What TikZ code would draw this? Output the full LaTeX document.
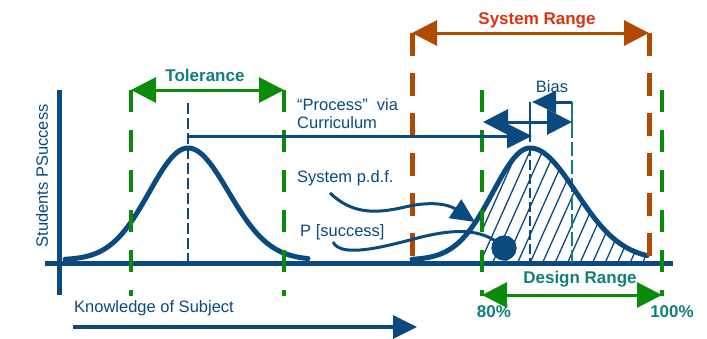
\documentclass[tikz,border=0pt]{standalone}
\usepackage{fontspec}
\setmainfont{Liberation Sans}
\usetikzlibrary{arrows.meta}
\definecolor{navy}{HTML}{0B4A7E}
\definecolor{grn}{HTML}{0A8C0A}
\definecolor{org}{HTML}{B04A00}
\definecolor{redt}{HTML}{DD3311}
\definecolor{tealt}{HTML}{127F78}
\begin{document}
\begin{tikzpicture}[x=1pt,y=-1pt,
  lbl/.style={font=\fontsize{16.5}{18}\selectfont, text=navy, inner sep=0pt},
  blbl/.style={font=\fontsize{17}{20}\selectfont\bfseries, inner sep=0pt},
  gdash/.style={grn, line width=4.5pt, dash pattern=on 22pt off 18pt},
  odash/.style={org, line width=5pt, dash pattern=on 23pt off 17pt},
  onehead/.style={line width=3pt, -{Triangle[length=25pt,width=24pt]}},
  twohead/.style={line width=3pt, {Triangle[length=25pt,width=25pt]}-{Triangle[length=25pt,width=25pt]}},
  bell/.style={navy, line width=5pt, line join=round, line cap=round},
  fineline/.style={line width=1.4pt},
  axisline/.style={navy, line width=5pt},
]
\useasboundingbox (0,0) rectangle (707,338);

% axes
\coordinate (xa0) at (45,263);
\coordinate (xa1) at (673,263);
\coordinate (ya0) at (59,90);
\coordinate (ya1) at (59,295);
\draw[axisline] (xa0) -- (xa1);
\draw[axisline] (ya0) -- (ya1);

% hatching under the right curve
\begin{scope}
  \clip plot[domain=482:647, samples=60] (\x,{260-112*exp(-((\x-530)^2)/((\x<530) ? 2738 : 4232))}) -- (647,263) -- (482,263) -- cycle;
  \foreach \i in {380,392.5,...,660} \draw[navy, line width=1.3pt] (\i,263) -- ++(55,-123);
\end{scope}

% vertical reference lines
\coordinate (c1t) at (188,103);
\coordinate (c1b) at (188,263);
\draw[navy, fineline, dash pattern=on 11pt off 4pt] (c1t) -- (c1b);
\coordinate (c2t) at (530,102);
\coordinate (c2b) at (530,263);
\draw[navy, fineline, dash pattern=on 40pt off 4pt on 10pt off 4pt on 10pt off 4pt on 10pt off 4pt on 10pt off 4pt on 10pt off 4pt on 10pt off 4pt on 10pt off 4pt on 10pt off 4pt on 10pt off 4pt] (c2t) -- (c2b);
\coordinate (c3t) at (572,102);
\coordinate (c3b) at (572,263);
\draw[tealt, fineline, dash pattern=on 36pt off 4pt on 14pt off 4pt on 14pt off 4pt on 14pt off 4pt on 14pt off 4pt on 14pt off 4pt on 14pt off 4pt on 14pt off 4pt] (c3t) -- (c3b);

% bell curves
\draw[bell] plot[domain=65:308, samples=90] (\x,{260-112*exp(-((\x-188)^2)/((\x<188) ? 3000 : 3300))});
\draw[bell] plot[domain=412:647, samples=90] (\x,{260-112*exp(-((\x-530)^2)/((\x<530) ? 2738 : 4232))});

% green tolerance lines
\coordinate (g1t) at (131,90);  \coordinate (g1b) at (131,296);
\coordinate (g2t) at (284,90);  \coordinate (g2b) at (284,296);
\coordinate (g3t) at (482,90);  \coordinate (g3b) at (482,296);
\coordinate (g4t) at (662,90);  \coordinate (g4b) at (662,296);
\draw[gdash] (g1t) -- (g1b);
\draw[gdash] (g2t) -- (g2b);
\draw[gdash] (g3t) -- (g3b);
\draw[gdash] (g4t) -- (g4b);

% orange system range lines
\coordinate (o1t) at (412,33);  \coordinate (o1b) at (412,259);
\coordinate (o2t) at (649,33);  \coordinate (o2b) at (649,259);
\draw[odash] (o1t) -- (o1b);
\draw[odash] (o2t) -- (o2b);

% range arrows
\draw[twohead, grn] (g1t) -- (g2t);
\draw[twohead, org] (o1t) -- (o2t);
\coordinate (d1) at (482,295);
\coordinate (d2) at (662,295);
\draw[twohead, grn] (d1) -- (d2);

% process arrow
\coordinate (p0) at (188,136);
\coordinate (p1) at (532,136);
\draw[onehead, navy] (p0) -- (p1);

% bias arrows
\coordinate (b1) at (483,122);
\coordinate (b2) at (572,122);
\draw[twohead, navy] (b1) -- (b2);
\coordinate (bs) at (572,102);
\coordinate (be) at (532,102);
\draw[navy, line width=3pt, -{Triangle[length=24pt,width=22pt]}] (bs) -- (be);

% knowledge arrow
\coordinate (k0) at (73,327);
\coordinate (k1) at (417,327);
\draw[navy, line width=3.5pt, -{Triangle[length=24pt,width=23pt]}] (k0) -- (k1);

% label pointers
\coordinate (sp0) at (330,193);
\coordinate (sp1) at (475,222);
\draw[navy, line width=3pt, -{Triangle[length=24pt,width=22pt]}]
  (sp0) .. controls (352,214) and (375,214) .. (405,207) .. controls (430,201) and (448,204) .. (sp1);
\coordinate (ps0) at (333,242);
\node[circle, fill=navy, minimum size=25pt, inner sep=0pt] (dot) at (504,248) {};
\draw[navy, line width=3pt]
  (ps0) .. controls (340,256) and (372,250) .. (410,240) .. controls (450,229) and (482,226) .. (dot.center);
\node[circle, fill=navy, minimum size=25pt, inner sep=0pt] at (dot) {};

% texts
\node[blbl, text=tealt] (tol) at (205,75) {Tolerance};
\node[blbl, text=redt] (sysr) at (537,20) {System Range};
\node[blbl, text=tealt] (desr) at (580,279) {Design Range};
\node[blbl, text=tealt] (p80) at (494,312) {80\%};
\node[blbl, text=tealt] (p100) at (672,312) {100\%};
\node[lbl] (bias) at (552,87) {Bias};
\node[lbl, anchor=west, align=left] (proc) at (297,114) {“Process”\ \ via\\Curriculum};
\node[lbl, anchor=west] (spdf) at (297,178) {System p.d.f.};
\node[lbl, anchor=west] (psucc) at (300,232) {P [success]};
\node[lbl, anchor=west] (know) at (74,308) {Knowledge of Subject};
\node[lbl, rotate=90] (ylab) at (42,176) {Students PSuccess};
\end{tikzpicture}
\end{document}
